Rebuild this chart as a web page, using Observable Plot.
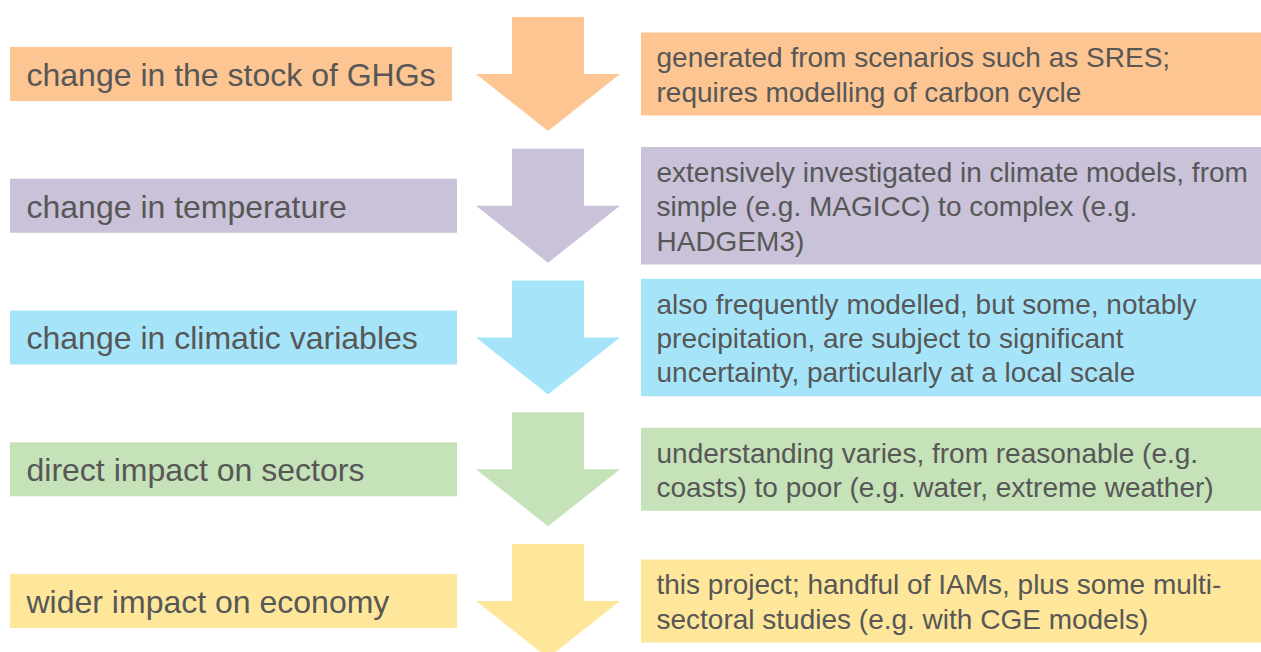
<!DOCTYPE html>
<html>
<head>
<meta charset="utf-8">
<script src="https://cdn.jsdelivr.net/npm/d3@7"></script>
<script src="https://cdn.jsdelivr.net/npm/@observablehq/plot@0.6"></script>
<style>
  html, body { margin: 0; padding: 0; background: #ffffff; overflow: hidden; }
  #chart svg { display: block; }
  #chart svg text { font-family: "Liberation Sans", Arial, sans-serif !important; }
</style>
</head>
<body>
<div id="chart"></div>
<script>
// ---- data ----
const stages = [
  "change in the stock of GHGs",
  "change in temperature",
  "change in climatic variables",
  "direct impact on sectors",
  "wider impact on economy"
];
const notes = [
  "generated from scenarios such as SRES;\nrequires modelling of carbon cycle",
  "extensively investigated in climate models, from\nsimple (e.g. MAGICC) to complex (e.g.\nHADGEM3)",
  "also frequently modelled, but some, notably\nprecipitation, are subject to significant\nuncertainty, particularly at a local scale",
  "understanding varies, from reasonable (e.g.\ncoasts) to poor (e.g. water, extreme weather)",
  "this project; handful of IAMs, plus some multi-\nsectoral studies (e.g. with CGE models)"
];
const colors = ["#fdc592", "#c9c2d8", "#a6e5f9", "#c5e2b8", "#fee79a"];

// ---- layout ----
const W = 1261, H = 652;
const firstRow = 74, rowStep = 131.75;
const rows = stages.map((s, i) => {
  const c = firstRow + i * rowStep;
  const nLines = notes[i].split("\n").length;
  const rh = nLines * 34.5 + 14;
  return {i, stage: s, note: notes[i], color: colors[i], c, rTop: c - rh / 2, rBot: c + rh / 2};
});
const arrowCx = 548, shaftHalf = 36, headHalf = 72, armLen = 57;
const heads = rows.flatMap(r => [
  {i: r.i, color: r.color, x: arrowCx - headHalf, y1: r.c, y2: r.c},
  {i: r.i, color: r.color, x: arrowCx, y1: r.c, y2: r.c + armLen},
  {i: r.i, color: r.color, x: arrowCx + headHalf, y1: r.c, y2: r.c}
]);

const font = "Liberation Sans";
const textColor = "#575757";

const chart = Plot.plot({
  width: W,
  height: H,
  margin: 0,
  style: {fontFamily: font, background: "#ffffff"},
  x: {domain: [0, W], range: [0, W], axis: null},
  y: {domain: [0, H], range: [0, H], axis: null},
  marks: [
    // left boxes
    Plot.rect(rows, {x1: 10, x2: d => d.i === 0 ? 452 : 457, y1: d => d.c - 27, y2: d => d.c + 27, fill: d => d.color}),
    Plot.text(rows, {x: 26, y: d => d.c, dy: 1, text: d => d.stage, textAnchor: "start",
      fontSize: 32, fontFamily: font, fill: textColor}),
    // arrows: shaft + head
    Plot.rect(rows, {x1: arrowCx - shaftHalf, x2: arrowCx + shaftHalf,
      y1: d => d.c - armLen, y2: d => d.c + 1, fill: d => d.color}),
    Plot.areaY(heads, {x: "x", y1: "y1", y2: "y2", z: "i", fill: d => d.color, curve: "linear"}),
    // right boxes
    Plot.rect(rows, {x1: 641, x2: W, y1: d => d.rTop, y2: d => d.rBot, fill: d => d.color}),
    Plot.text(rows, {x: 656, y: d => d.c, dy: -1, text: d => d.note, textAnchor: "start",
      fontSize: 28, fontFamily: font, lineHeight: 1.23, fill: textColor})
  ]
});
document.getElementById("chart").appendChild(chart);
</script>
</body>
</html>
